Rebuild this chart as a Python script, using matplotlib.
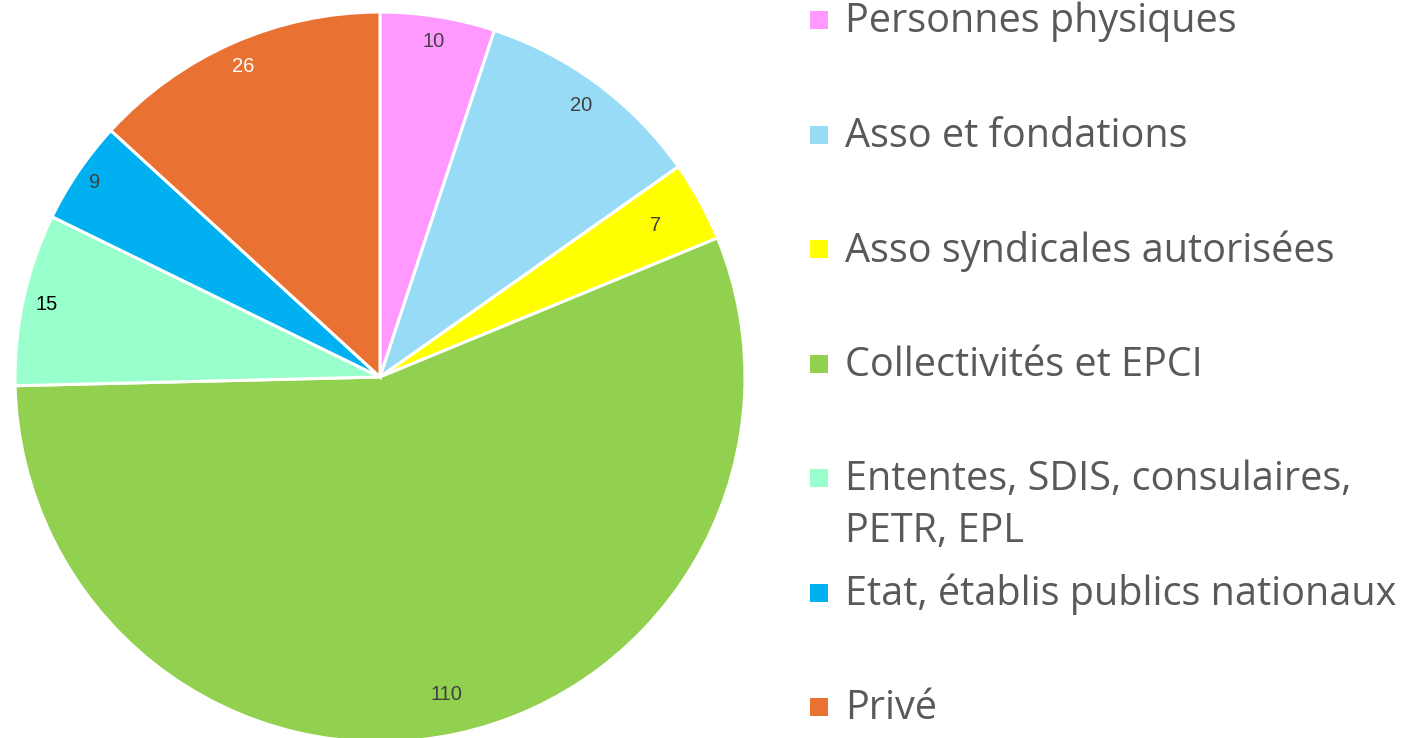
"""
pie chart: repartition par type de porteur
"""

import matplotlib
matplotlib.use('Agg')
import numpy as np
from matplotlib import pyplot as plt

categories = ['Personnes physiques', 'Asso et fondations', 'Asso syndicales autorisées',
              'Collectivités et EPCI', 'Ententes, SDIS, consulaires,\nPETR, EPL',
              'Etat, établis publics nationaux', 'Privé']
values = [10, 20, 7, 110, 15, 9, 26]
colors = ['#FF99FF', '#97DBF7', '#FFFF00', '#92D050', '#99FFCC', '#00B0F0', '#E97132']
label_colors = ['#404040', '#404040', '#404040', '#404040', '#000000', '#404040', '#FFFFFF']
# radial position of each value label (fraction of radius)
label_dist = [0.93, 0.925, 0.86, 0.89, 0.935, 0.945, 0.93]

plt.rcParams['font.family'] = ['Open Sans', 'DejaVu Sans']

W, H = 1407, 738
fig = plt.figure(figsize=(W / 100, H / 100), dpi=100)

# pie axes, centre (380, 377) px, radius 365 px
cx, cy, r = 380, 377, 365
ax = fig.add_axes([(cx - r) / W, (H - cy - r) / H, 2 * r / W, 2 * r / H])
wedges, texts, autotexts = ax.pie(values, colors=colors, startangle=90, counterclock=False,
                                  autopct=lambda p: '%d' % round(p * sum(values) / 100),
                                  wedgeprops=dict(edgecolor='white', linewidth=2.2),
                                  textprops=dict(fontsize=14.5, family=['Liberation Sans', 'DejaVu Sans']))
for w, t, c, d in zip(wedges, autotexts, label_colors, label_dist):
    a = np.deg2rad((w.theta1 + w.theta2) / 2)
    t.set_position((d * np.cos(a), d * np.sin(a)))
    t.set_color(c)
ax.set_xlim(-1, 1)
ax.set_ylim(-1, 1)
ax.set_aspect('equal')
ax.axis('off')

# legend drawn by hand (uniform row spacing, wrapped label)
lax = fig.add_axes([0, 0, 1, 1])
lax.set_xlim(0, W)
lax.set_ylim(H, 0)
lax.axis('off')
for i, (lab, col) in enumerate(zip(categories, colors)):
    y = 20 + i * 114.5
    lax.scatter([819], [y], s=150, marker='s', color=col, linewidths=0)
    for j, line in enumerate(lab.split('\n')):
        lax.text(845, y + 2 + j * 52, line, fontsize=28.5, color='#595959', va='center', ha='left')

fig.savefig('out.png', dpi=100)
